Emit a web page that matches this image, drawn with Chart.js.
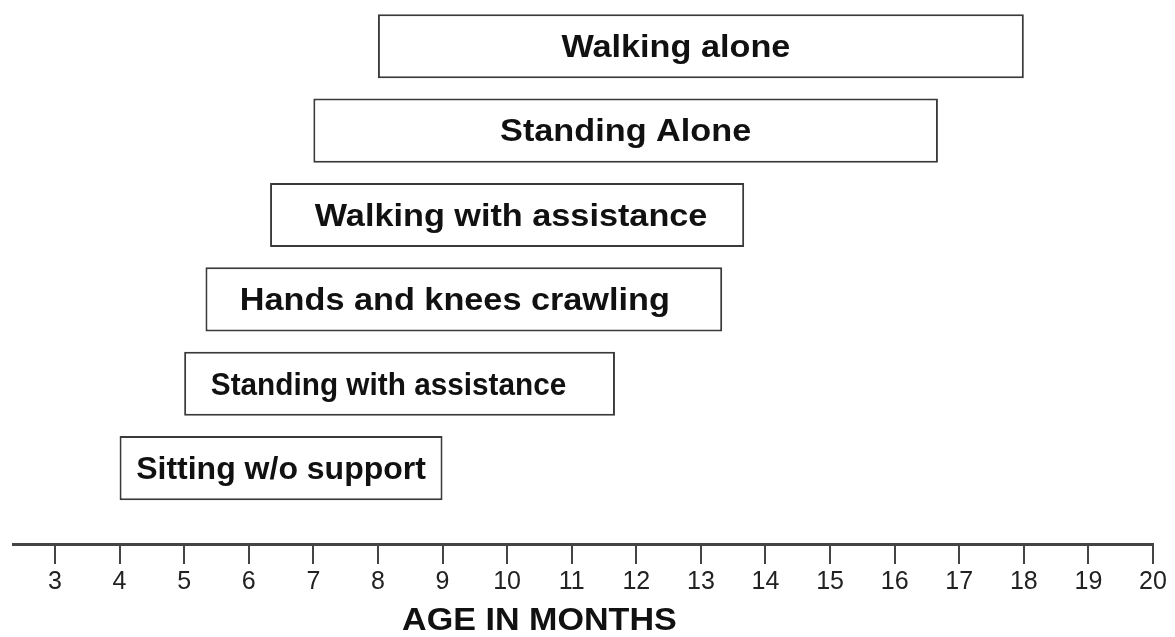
<!DOCTYPE html>
<html>
<head>
<meta charset="utf-8">
<script src="https://cdn.jsdelivr.net/npm/chart.js@4.4.1/dist/chart.umd.min.js"></script>
<style>
  html, body { margin: 0; padding: 0; background: #fff; }
  #wrap { width: 1175px; height: 637px; position: relative; }
</style>
</head>
<body>
<div id="wrap"><canvas id="hitosChart"></canvas></div>
<script>
// hitos motores, de abajo hacia arriba
const activities = [
  'Sitting w/o support',
  'Standing with assistance',
  'Hands and knees crawling',
  'Walking with assistance',
  'Standing Alone',
  'Walking alone'
];
const startMonths = [4, 5, 5.33, 6.33, 7, 8];
const endMonths   = [9, 11.67, 13.33, 13.67, 16.67, 18];
const axisTitle = 'AGE IN MONTHS';

const FONT = '"Liberation Sans", Arial, sans-serif';

// texto estirado en horizontal (el original esta algo deformado)
function drawStretched(ctx, text, x, y, sx) {
  ctx.save();
  ctx.translate(x, y);
  ctx.scale(sx, 1);
  ctx.fillText(text, 0, 0);
  ctx.restore();
}

// etiquetas dentro de cada barra
const barLabels = {
  id: 'barLabels',
  afterDatasetsDraw(chart, args, opts) {
    const ctx = chart.ctx;
    const meta = chart.getDatasetMeta(0);
    ctx.save();
    ctx.fillStyle = '#111';
    ctx.textAlign = 'center';
    ctx.textBaseline = 'middle';
    ctx.font = 'bold 32px ' + FONT;
    meta.data.forEach((bar, i) => {
      const cx = (bar.x + bar.base) / 2 + (opts.shift[i] || 0);
      drawStretched(ctx, activities[i], cx, bar.y + 2, opts.stretch[i] || 1);
    });
    ctx.restore();
  }
};

// titulo del eje x (desplazado a la izquierda como en el original)
const axisTitlePlugin = {
  id: 'axisTitle',
  afterDraw(chart) {
    const ctx = chart.ctx;
    const x = chart.scales.x.getPixelForValue(10.5);
    ctx.save();
    ctx.font = 'bold 31px ' + FONT;
    ctx.fillStyle = '#111';
    ctx.textAlign = 'center';
    ctx.textBaseline = 'middle';
    drawStretched(ctx, axisTitle, x, 621, 1.1);
    ctx.restore();
  }
};

const ctx = document.getElementById('hitosChart').getContext('2d');
new Chart(ctx, {
  type: 'bar',
  data: {
    datasets: [{
      data: activities.map((a, i) => ({ x: [startMonths[i], endMonths[i]], y: i })),
      backgroundColor: '#ffffff',
      borderColor: '#3a3a3a',
      borderWidth: 2,
      borderSkipped: false,
      categoryPercentage: 1,
      barPercentage: 0.76
    }]
  },
  options: {
    indexAxis: 'y',
    responsive: true,
    maintainAspectRatio: false,
    animation: false,
    layout: { padding: { left: 13, right: 22, top: 4, bottom: 37 } },
    scales: {
      x: {
        type: 'linear',
        min: 2.35,
        max: 20,
        grid: {
          drawOnChartArea: false,
          drawTicks: true,
          tickLength: 20,
          color: '#444',
          lineWidth: 2
        },
        border: { display: true, color: '#444', width: 3 },
        ticks: {
          stepSize: 1,
          includeBounds: false,
          padding: 3,
          color: '#222',
          font: { family: FONT, size: 25 }
        }
      },
      y: {
        type: 'linear',
        display: false,
        offset: false,
        min: -0.9,
        max: 5.5,
        ticks: { stepSize: 1, includeBounds: false }
      }
    },
    plugins: {
      legend: { display: false },
      tooltip: { enabled: false },
      barLabels: {
        stretch: [1.0, 0.93, 1.07, 1.07, 1.07, 1.07],
        shift: [0, -11, -9, 4, 0, -25]
      }
    }
  },
  plugins: [barLabels, axisTitlePlugin]
});
</script>
</body>
</html>
